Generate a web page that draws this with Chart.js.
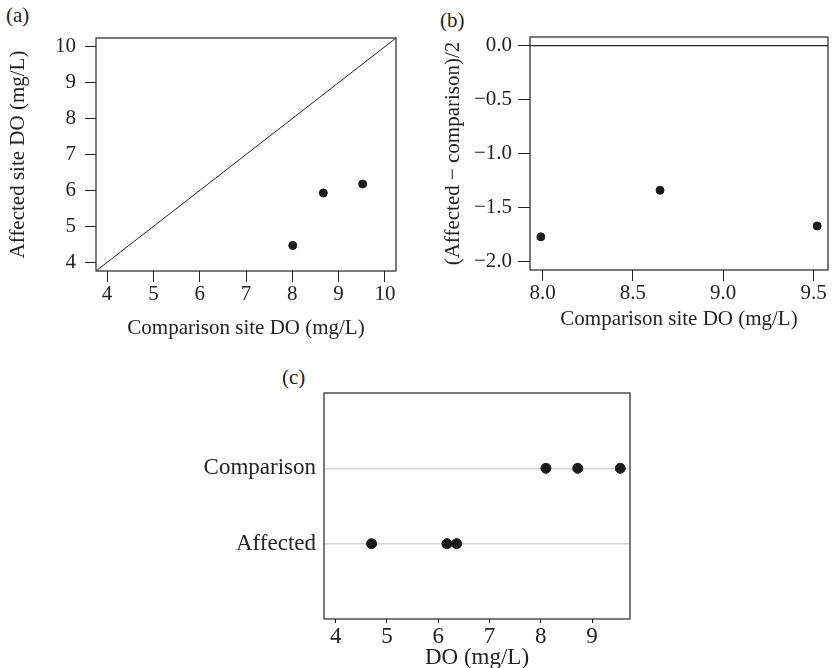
<!DOCTYPE html>
<html>
<head>
<meta charset="utf-8">
<script src="https://cdn.jsdelivr.net/npm/chart.js@4.4.1/dist/chart.umd.min.js"></script>
<style>
    body { margin: 0; background: #fff; }
    #page { position: relative; width: 833px; height: 668px; overflow: hidden; font-family: "Liberation Serif", serif; color: #222; }
    canvas { position: absolute; }
    .tag { position: absolute; font-size: 21px; line-height: 20px; }
</style>
</head>
<body>
<div id="page">
    <div class="tag" style="left:6px; top:5px;">(a)</div>
    <div class="tag" style="left:440px; top:10px;">(b)</div>
    <div class="tag" style="left:282px; top:367px;">(c)</div>
    <canvas id="chartA" width="410" height="342" style="left:0; top:0;"></canvas>
    <canvas id="chartB" width="423" height="342" style="left:410px; top:0;"></canvas>
    <canvas id="chartC" width="450" height="312" style="left:200px; top:360px;"></canvas>
</div>
<script>
// (a) affected vs comparison
const aComparison = [8.01, 8.67, 9.52];
const aAffected = [4.47, 5.93, 6.18];
const aTicks = [4, 5, 6, 7, 8, 9, 10];
const aRange = [3.76, 10.24];

// (b) half difference vs comparison
const bComparison = [7.99, 8.65, 9.52];
const bHalfDiff = [-1.77, -1.34, -1.67];
const bXTicks = [8.0, 8.5, 9.0, 9.5];
const bYTicks = [0.0, -0.5, -1.0, -1.5, -2.0];
const bXRange = [7.93, 9.58];
const bYRange = [-2.077, 0.079];

// (c) strip chart
const groups = ['Affected', 'Comparison'];
const cAffected = [4.70, 6.17, 6.36];
const cComparison = [8.10, 8.72, 9.55];
const cTicks = [4, 5, 6, 7, 8, 9];
const cRange = [3.772, 9.74];

const FONT = 'Liberation Serif';
const INK = '#222';

// box around the plot region, like base R
const framePlugin = {
    id: 'frame',
    afterDraw(chart) {
        const { ctx, chartArea: a } = chart;
        ctx.save();
        ctx.strokeStyle = INK;
        ctx.lineWidth = 1.2;
        ctx.strokeRect(a.left, a.top, a.right - a.left, a.bottom - a.top);
        ctx.restore();
    }
};

function fixedTicks(values) {
    return scale => { scale.ticks = values.map(v => ({ value: v })); };
}

function baseOptions(padding) {
    return {
        responsive: false,
        animation: false,
        layout: { padding: padding },
        plugins: { legend: { display: false }, tooltip: { enabled: false } },
    };
}

function axis(opts) {
    return {
        type: 'linear',
        min: opts.min,
        max: opts.max,
        afterBuildTicks: fixedTicks(opts.ticks),
        afterFit: opts.fit,
        border: { display: false },
        grid: { drawOnChartArea: false, tickLength: opts.tickLength, color: INK, lineWidth: 1 },
        ticks: {
            padding: opts.padding,
            color: INK,
            autoSkip: false,
            maxRotation: 0,
            font: { family: FONT, size: opts.size || 21 },
            callback: opts.format || (v => String(v)),
        },
        title: {
            display: !!opts.title,
            text: opts.title,
            color: INK,
            font: { family: FONT, size: opts.size || 21 },
            padding: opts.titlePadding,
        },
    };
}

const dotStyle = { backgroundColor: '#1a1a1a', borderColor: '#1a1a1a', pointRadius: 4, pointHoverRadius: 4 };

new Chart(document.getElementById('chartA'), {
    type: 'scatter',
    data: {
        datasets: [
            {
                type: 'line',
                data: aRange.map(v => ({ x: v, y: v })),
                borderColor: INK,
                borderWidth: 1,
                pointRadius: 0,
            },
            Object.assign({ data: aComparison.map((c, i) => ({ x: c, y: aAffected[i] })) }, dotStyle),
        ],
    },
    options: Object.assign(baseOptions({ top: 38, right: 14, left: 0, bottom: 0 }), {
        scales: {
            x: axis({
                min: aRange[0], max: aRange[1], ticks: aTicks,
                fit: s => { s.height = 71; },
                tickLength: 11, padding: 0,
                title: 'Comparison site DO (mg/L)', titlePadding: { top: 0, bottom: 1 },
            }),
            y: axis({
                min: aRange[0], max: aRange[1], ticks: aTicks,
                fit: s => { s.width = 96; },
                tickLength: 11, padding: 9,
                title: 'Affected site DO (mg/L)', titlePadding: { top: 6, bottom: 0 },
            }),
        },
    }),
    plugins: [framePlugin],
});

new Chart(document.getElementById('chartB'), {
    type: 'scatter',
    data: {
        datasets: [
            {
                type: 'line',
                data: bXRange.map(v => ({ x: v, y: 0 })),
                borderColor: INK,
                borderWidth: 1.2,
                pointRadius: 0,
            },
            Object.assign({ data: bComparison.map((c, i) => ({ x: c, y: bHalfDiff[i] })) }, dotStyle),
        ],
    },
    options: Object.assign(baseOptions({ top: 37, right: 3, left: 0, bottom: 0 }), {
        scales: {
            x: axis({
                min: bXRange[0], max: bXRange[1], ticks: bXTicks,
                fit: s => { s.height = 72; },
                tickLength: 11, padding: 0,
                format: v => v.toFixed(1),
                title: 'Comparison site DO (mg/L)', titlePadding: { top: 0, bottom: 10 },
            }),
            y: axis({
                min: bYRange[0], max: bYRange[1], ticks: bYTicks,
                fit: s => { s.width = 120; },
                tickLength: 12, padding: 6,
                format: v => v.toFixed(1).replace('-', '\u2212'),
                title: '(Affected \u2212 comparison)/2', titlePadding: { top: 31, bottom: 0 },
            }),
        },
    }),
    plugins: [framePlugin],
});

const cY = axis({
    min: 0, max: 3, ticks: [1, 2],
    fit: s => { s.width = 124; },
    tickLength: 0, padding: 8, size: 23,
    format: v => groups[v - 1],
});
cY.grid = { drawOnChartArea: true, drawTicks: false, color: '#d2d2d2', lineWidth: 1.6 };

new Chart(document.getElementById('chartC'), {
    type: 'scatter',
    data: {
        datasets: [
            Object.assign({}, dotStyle, { data: cAffected.map(v => ({ x: v, y: 1 })), pointRadius: 5 }),
            Object.assign({}, dotStyle, { data: cComparison.map(v => ({ x: v, y: 2 })), pointRadius: 5 }),
        ],
    },
    options: Object.assign(baseOptions({ top: 33, right: 20, left: 0, bottom: 0 }), {
        scales: {
            x: axis({
                min: cRange[0], max: cRange[1], ticks: cTicks,
                fit: s => { s.height = 53; },
                tickLength: 4, padding: 0, size: 23,
                title: 'DO (mg/L)', titlePadding: { top: 0, bottom: 0 },
            }),
            y: cY,
        },
    }),
    plugins: [framePlugin],
});
</script>
</body>
</html>
